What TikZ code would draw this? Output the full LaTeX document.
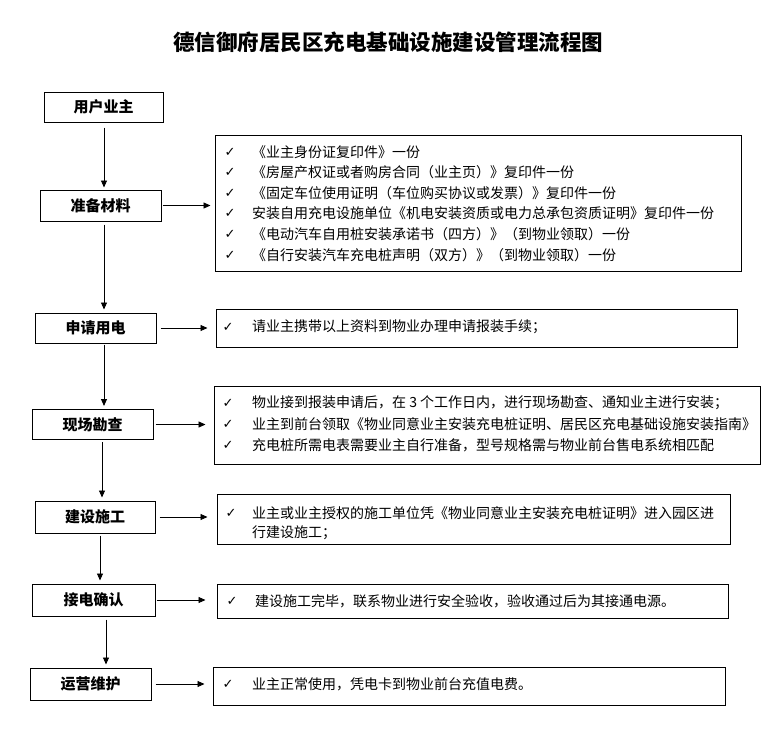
\documentclass[tikz,border=0pt]{standalone}
\usepackage{fontspec}
\setmainfont{Noto Sans CJK SC}
\newfontfamily\symf{DejaVu Sans}
\usetikzlibrary{arrows.meta}
\begin{document}
\begin{tikzpicture}[x=1pt,y=-1pt,
  stepbox/.style={draw,line width=1pt,minimum width=121pt,minimum height=31pt,inner sep=0pt,font=\fontsize{15}{18}\selectfont\bfseries},
  infobox/.style={draw,line width=1pt,inner sep=0pt},
  arr/.style={-{Triangle[length=7pt,width=6pt]},line width=0.9pt},
  txt/.style={anchor=west,inner sep=0pt,font=\fontsize{14}{16}\selectfont},
  chk/.style={inner sep=0pt,font=\symf\fontsize{13}{14}\selectfont}]
\useasboundingbox (0,0) rectangle (770,731);
\fill[white] (0,0) rectangle (770,731);

\node[font=\fontsize{21.5}{24}\selectfont\bfseries] (title) at (388,42) {德信御府居民区充电基础设施建设管理流程图};

% step boxes
\node[stepbox,minimum width=119pt,minimum height=30pt] (u1) at (103.5,107) {用户业主};
\node[stepbox] (u2) at (100.5,205.5) {准备材料};
\node[stepbox,minimum height=30pt] (u3) at (95.5,328) {申请用电};
\node[stepbox,minimum height=30pt] (u4) at (92.5,424.5) {现场勘查};
\node[stepbox,minimum width=120pt,minimum height=32pt] (u5) at (95,517) {建设施工};
\node[stepbox,minimum width=123pt,minimum height=32pt] (u6) at (93.5,600) {接电确认};
\node[stepbox,minimum height=32pt] (u7) at (90.5,684) {运营维护};

% info boxes
\node[infobox,minimum width=526pt,minimum height=136pt] (b2) at (478,203) {};
\node[infobox,minimum width=521pt,minimum height=38pt] (b3) at (476.5,328) {};
\node[infobox,minimum width=546pt,minimum height=78pt] (b4) at (487,425) {};
\node[infobox,minimum width=513pt,minimum height=50pt] (b5) at (473.5,519) {};
\node[infobox,minimum width=511pt,minimum height=34pt] (b6) at (472.5,601) {};
\node[infobox,minimum width=512pt,minimum height=38pt] (b7) at (469,686) {};

% texts b2
\node[chk] (k21) at (230,152) {✓};
\node[txt] (t21) at (252,152) {《业主身份证复印件》一份};
\node[chk] (k22) at (230,172.5) {✓};
\node[txt] (t22) at (252,172.5) {《房屋产权证或者购房合同（业主页）》复印件一份};
\node[chk] (k23) at (230,193) {✓};
\node[txt] (t23) at (252,193) {《固定车位使用证明（车位购买协议或发票）》复印件一份};
\node[chk] (k24) at (230,213.5) {✓};
\node[txt] (t24) at (252,213.5) {安装自用充电设施单位《机电安装资质或电力总承包资质证明》复印件一份};
\node[chk] (k25) at (230,234) {✓};
\node[txt] (t25) at (252,234) {《电动汽车自用桩安装承诺书（四方）》（到物业领取）一份};
\node[chk] (k26) at (230,255) {✓};
\node[txt] (t26) at (252,255) {《自行安装汽车充电桩声明（双方）》（到物业领取）一份};

% b3
\node[chk] (k31) at (228,327) {✓};
\node[txt] (t31) at (252,327) {请业主携带以上资料到物业办理申请报装手续；};

% b4
\node[chk] (k41) at (228,403) {✓};
\node[txt] (t41) at (252,403) {物业接到报装申请后，在 3 个工作日内，进行现场勘查、通知业主进行安装；};
\node[chk] (k42) at (228,424) {✓};
\node[txt] (t42) at (252,424) {业主到前台领取《物业同意业主安装充电桩证明、居民区充电基础设施安装指南》};
\node[chk] (k43) at (228,445) {✓};
\node[txt] (t43) at (252,445) {充电桩所需电表需要业主自行准备，型号规格需与物业前台售电系统相匹配};

% b5
\node[chk] (k51) at (231,513) {✓};
\node[txt] (t51) at (252,513) {业主或业主授权的施工单位凭《物业同意业主安装充电桩证明》进入园区进};
\node[txt] (t52) at (252,533) {行建设施工；};

% b6
\node[chk] (k61) at (232,601) {✓};
\node[txt] (t61) at (255,601) {建设施工完毕，联系物业进行安全验收，验收通过后为其接通电源。};

% b7
\node[chk] (k71) at (228,684) {✓};
\node[txt] (t71) at (252,684) {业主正常使用，凭电卡到物业前台充值电费。};

% vertical arrows
\coordinate (v1) at (104,0);
\coordinate (v2) at (104,0);
\coordinate (v3) at (104,0);
\coordinate (v4) at (102,0);
\coordinate (v5) at (100,0);
\coordinate (v6) at (106,0);
\draw[arr,shorten <=5pt,shorten >=2pt] (u1.south -| v1) -- (u2.north -| v1);
\draw[arr,shorten <=3pt,shorten >=3pt] (u2.south -| v2) -- (u3.north -| v2);
\draw[arr,shorten <=1pt,shorten >=3pt] (u3.south -| v3) -- (u4.north -| v3);
\draw[arr,shorten <=2pt,shorten >=3pt] (u4.south -| v4) -- (u5.north -| v4);
\draw[arr,shorten <=2pt,shorten >=3pt] (u5.south -| v5) -- (u6.north -| v5);
\draw[arr,shorten <=3pt,shorten >=3pt] (u6.south -| v6) -- (u7.north -| v6);

% horizontal arrows
\draw[arr,shorten <=1pt,shorten >=4pt] (u2.east) -- (b2.west |- u2.east);
\draw[arr,shorten <=4pt,shorten >=8pt] (u3.east) -- (b3.west |- u3.east);
\draw[arr,shorten <=2pt,shorten >=8pt] (u4.east) -- (b4.west |- u4.east);
\draw[arr,shorten <=4pt,shorten >=9pt] (u5.east) -- (b5.west |- u5.east);
\draw[arr,shorten <=1pt,shorten >=11pt] (u6.east) -- (b6.west |- u6.east);
\draw[arr,shorten <=4pt,shorten >=8pt] (u7.east) -- (b7.west |- u7.east);
\end{tikzpicture}
\end{document}
